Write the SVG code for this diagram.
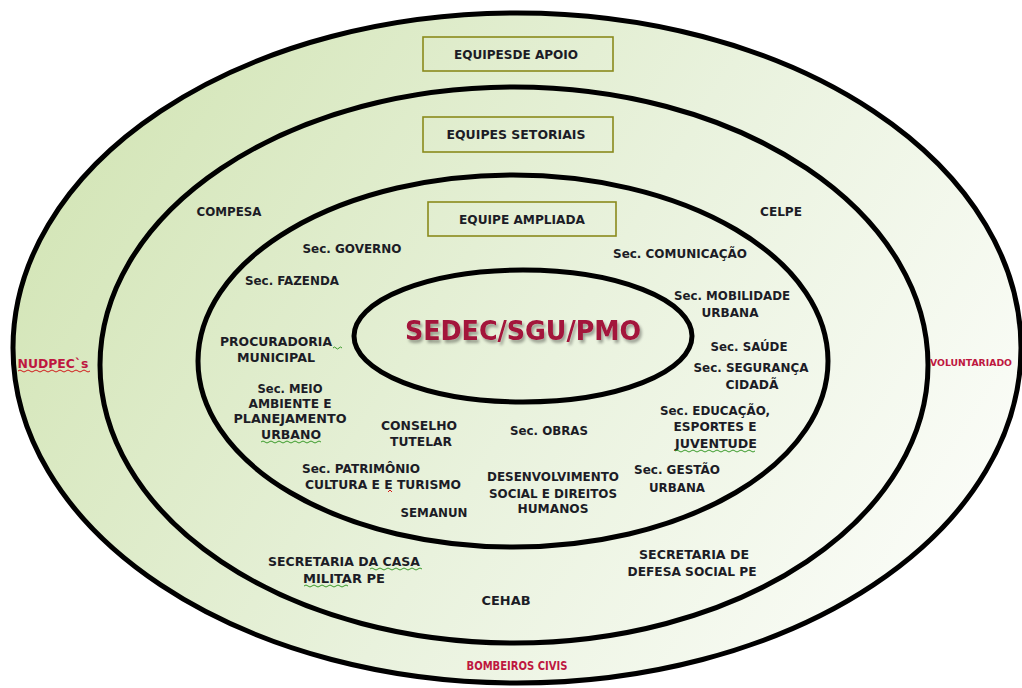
<svg xmlns="http://www.w3.org/2000/svg" width="1022" height="688" viewBox="0 0 1022 688">
<defs>
<linearGradient id="bg" gradientUnits="userSpaceOnUse" x1="60" y1="120" x2="900" y2="640">
<stop offset="0" stop-color="#d3e5b6"/>
<stop offset="0.55" stop-color="#e9f2dd"/>
<stop offset="1" stop-color="#fafcf7"/>
</linearGradient>
<filter id="sh" x="-10%" y="-30%" width="120%" height="160%">
<feGaussianBlur in="SourceAlpha" stdDeviation="1.5"/>
<feOffset dx="2" dy="3" result="b"/>
<feComponentTransfer><feFuncA type="linear" slope="0.35"/></feComponentTransfer>
<feMerge><feMergeNode/><feMergeNode in="SourceGraphic"/></feMerge>
</filter>
</defs>
<style>
.ring{fill:url(#bg);stroke:#000;stroke-width:5}
.box{fill:none;stroke:#8a8a1c;stroke-width:1.6}
.t{font-family:"DejaVu Sans","Liberation Sans",sans-serif;font-weight:bold;font-size:12px;fill:#1c1c26;text-anchor:middle}
.c{font-family:"DejaVu Sans Condensed","DejaVu Sans","Liberation Sans",sans-serif;font-weight:bold;font-size:12.5px;fill:#1c1c26;text-anchor:middle}
.r{fill:#be1740}
.v{font-size:9.2px;text-anchor:start}
.main{font-family:"DejaVu Sans","Liberation Sans",sans-serif;font-weight:bold;font-size:27px;fill:#a3123a;text-anchor:middle}
.sq{fill:none;stroke-width:1}
.g{stroke:#3a9a2a}
.rd{stroke:#d11a1a}
</style>
<g id="rings">
<ellipse id="ring-apoio" class="ring" cx="517" cy="348" rx="504" ry="335"/>
<ellipse id="ring-setoriais" class="ring" cx="514" cy="365" rx="414" ry="278"/>
<ellipse id="ring-ampliada" class="ring" cx="513" cy="361" rx="315" ry="186"/>
<ellipse id="ring-core" class="ring" cx="523" cy="336" rx="169" ry="66"/>
</g>
<g id="connectors"/>
<g id="n-equipes-apoio"><rect class="box" x="423" y="37" width="190" height="34"/><text class="c" x="516" y="59" textLength="124" lengthAdjust="spacingAndGlyphs">EQUIPESDE APOIO</text></g>
<g id="n-equipes-setoriais"><rect class="box" x="423" y="117" width="190" height="35"/><text class="t" x="516" y="139" textLength="139" lengthAdjust="spacingAndGlyphs">EQUIPES SETORIAIS</text></g>
<g id="n-equipe-ampliada"><rect class="box" x="428" y="202" width="188" height="34"/><text class="t" x="522" y="224" textLength="126" lengthAdjust="spacingAndGlyphs">EQUIPE AMPLIADA</text></g>
<g id="n-sedec"><text class="main" x="523" y="340" textLength="236" lengthAdjust="spacingAndGlyphs" filter="url(#sh)">SEDEC/SGU/PMO</text></g>
<g id="n-compesa"><text class="t" x="229" y="216" textLength="65" lengthAdjust="spacingAndGlyphs">COMPESA</text></g>
<g id="n-celpe"><text class="t" x="781" y="216" textLength="42" lengthAdjust="spacingAndGlyphs">CELPE</text></g>
<g id="n-governo"><text class="t" x="352" y="253" textLength="99" lengthAdjust="spacingAndGlyphs">Sec. GOVERNO</text></g>
<g id="n-fazenda"><text class="t" x="292" y="285" textLength="94" lengthAdjust="spacingAndGlyphs">Sec.  FAZENDA</text></g>
<g id="n-comunicacao"><text class="t" x="680" y="258" textLength="134" lengthAdjust="spacingAndGlyphs">Sec. COMUNICAÇÃO</text></g>
<g id="n-mobilidade"><text class="t" x="732" y="300" textLength="116" lengthAdjust="spacingAndGlyphs">Sec.  MOBILIDADE</text><text class="t" x="730" y="317" textLength="57" lengthAdjust="spacingAndGlyphs">URBANA</text></g>
<g id="n-saude"><text class="t" x="749" y="351" textLength="77" lengthAdjust="spacingAndGlyphs">Sec. SAÚDE</text></g>
<g id="n-seguranca"><text class="t" x="751" y="372" textLength="115" lengthAdjust="spacingAndGlyphs">Sec. SEGURANÇA</text><text class="t" x="752" y="389" textLength="53" lengthAdjust="spacingAndGlyphs">CIDADÃ</text></g>
<g id="n-educacao"><text class="t" x="715" y="415" textLength="110" lengthAdjust="spacingAndGlyphs">Sec. EDUCAÇÃO,</text><text class="t" x="715" y="431" textLength="83" lengthAdjust="spacingAndGlyphs">ESPORTES E</text><text class="t" x="716" y="448" textLength="82" lengthAdjust="spacingAndGlyphs">JUVENTUDE</text><path class="sq g" d="M675 451 q2 -2 4 0 t4 0 t4 0 t4 0 t4 0 t4 0 t4 0 t4 0 t4 0 t4 0 t4 0 t4 0 t4 0 t4 0 t4 0 t4 0 t4 0 t4 0 t4 0 t4 0"/></g>
<g id="n-procuradoria"><text class="t" x="276" y="346" textLength="112" lengthAdjust="spacingAndGlyphs">PROCURADORIA</text><text class="t" x="276" y="362" textLength="78" lengthAdjust="spacingAndGlyphs">MUNICIPAL</text><path class="sq g" d="M333 348 q1.5 -2 3 0 t3 0 t3 0"/></g>
<g id="n-meio-ambiente"><text class="t" x="290" y="393" textLength="65" lengthAdjust="spacingAndGlyphs">Sec.  MEIO</text><text class="t" x="290" y="408" textLength="83" lengthAdjust="spacingAndGlyphs">AMBIENTE E</text><text class="t" x="290" y="423" textLength="113" lengthAdjust="spacingAndGlyphs">PLANEJAMENTO</text><text class="t" x="291" y="439" textLength="60" lengthAdjust="spacingAndGlyphs">URBANO</text><path class="sq g" d="M261 442 q2 -2 4 0 t4 0 t4 0 t4 0 t4 0 t4 0 t4 0 t4 0 t4 0 t4 0 t4 0 t4 0 t4 0 t4 0 t4 0"/></g>
<g id="n-conselho"><text class="t" x="419" y="430" textLength="76" lengthAdjust="spacingAndGlyphs">CONSELHO</text><text class="t" x="421" y="446" textLength="62" lengthAdjust="spacingAndGlyphs">TUTELAR</text></g>
<g id="n-obras"><text class="t" x="549" y="435" textLength="78" lengthAdjust="spacingAndGlyphs">Sec. OBRAS</text></g>
<g id="n-patrimonio"><text class="t" x="361" y="473" textLength="118" lengthAdjust="spacingAndGlyphs">Sec.  PATRIMÔNIO</text><text class="t" x="383" y="489" textLength="156" lengthAdjust="spacingAndGlyphs">CULTURA E E TURISMO</text><path class="sq rd" d="M388 492 l2 -2 l2 2"/></g>
<g id="n-semanun"><text class="t" x="434" y="517" textLength="67" lengthAdjust="spacingAndGlyphs">SEMANUN</text></g>
<g id="n-desenvolvimento"><text class="t" x="553" y="481" textLength="132" lengthAdjust="spacingAndGlyphs">DESENVOLVIMENTO</text><text class="t" x="553" y="498" textLength="128" lengthAdjust="spacingAndGlyphs">SOCIAL E DIREITOS</text><text class="t" x="553" y="513" textLength="71" lengthAdjust="spacingAndGlyphs">HUMANOS</text></g>
<g id="n-gestao"><text class="t" x="677" y="474" textLength="86" lengthAdjust="spacingAndGlyphs">Sec. GESTÃO</text><text class="t" x="677" y="492" textLength="56" lengthAdjust="spacingAndGlyphs">URBANA</text></g>
<g id="n-casa-militar"><text class="c" x="344" y="566" textLength="152" lengthAdjust="spacingAndGlyphs">SECRETARIA DA CASA</text><text class="c" x="344" y="583" textLength="82" lengthAdjust="spacingAndGlyphs">MILITAR PE</text><path class="sq g" d="M370 569 q2 -2 4 0 t4 0 t4 0 t4 0 t4 0 t4 0 t4 0 t4 0 t4 0 t4 0 t4 0 t4 0 t4 0"/><path class="sq g" d="M304 586 q2 -2 4 0 t4 0 t4 0 t4 0 t4 0 t4 0 t4 0 t4 0 t4 0 t4 0 t4 0"/></g>
<g id="n-defesa-social"><text class="c" x="694" y="559" textLength="110" lengthAdjust="spacingAndGlyphs">SECRETARIA DE</text><text class="c" x="692" y="576" textLength="129" lengthAdjust="spacingAndGlyphs">DEFESA SOCIAL  PE</text></g>
<g id="n-cehab"><text class="t" x="506" y="605" textLength="49" lengthAdjust="spacingAndGlyphs">CEHAB</text></g>
<g id="n-bombeiros"><text class="c r" x="517" y="670" textLength="101" lengthAdjust="spacingAndGlyphs">BOMBEIROS CIVIS</text></g>
<g id="n-nudpec"><text class="t r" x="53" y="368" textLength="71" lengthAdjust="spacingAndGlyphs">NUDPEC`s</text><path class="sq rd" d="M18 371 q2 -2 4 0 t4 0 t4 0 t4 0 t4 0 t4 0 t4 0 t4 0 t4 0 t4 0 t4 0 t4 0 t4 0 t4 0 t4 0 t4 0 t4 0 t4 0"/></g>
<g id="n-voluntariado"><text class="t r v" x="930" y="366" textLength="82" lengthAdjust="spacingAndGlyphs">VOLUNTARIADO</text></g>
</svg>
